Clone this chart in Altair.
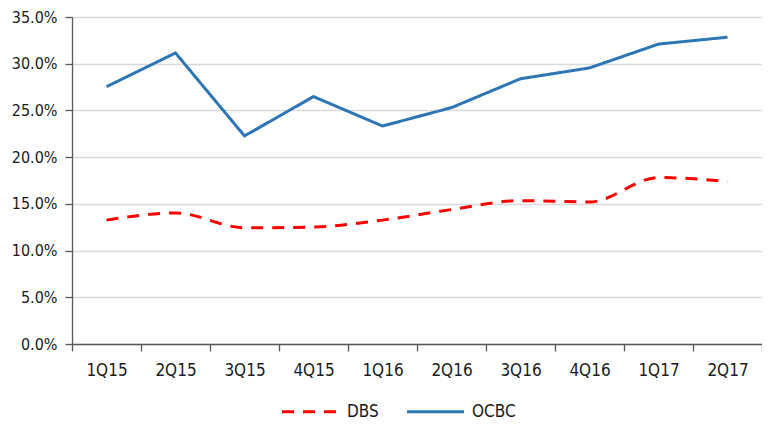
import altair as alt
import pandas as pd

quarters = ["1Q15", "2Q15", "3Q15", "4Q15", "1Q16", "2Q16", "3Q16", "4Q16", "1Q17", "2Q17"]
dbs = [0.1326, 0.1403, 0.1244, 0.1252, 0.1326, 0.1439, 0.1534, 0.1520, 0.1782, 0.1739]
ocbc = [0.2754, 0.3115, 0.2227, 0.2648, 0.2333, 0.2530, 0.2839, 0.2955, 0.3210, 0.3284]

df = pd.DataFrame(
    [{"q": q, "bank": "DBS", "v": v} for q, v in zip(quarters, dbs)]
    + [{"q": q, "bank": "OCBC", "v": v} for q, v in zip(quarters, ocbc)]
)

FONT = "DejaVu Sans Condensed, Liberation Sans, sans-serif"
FS = 17

x = alt.X(
    "q:N",
    sort=quarters,
    title=None,
    bandPosition=0.5,
    scale=alt.Scale(type="band", paddingInner=0, paddingOuter=0),
    axis=alt.Axis(
        tickBand="extent",
        labelAngle=0,
        labelFont=FONT,
        labelFontSize=FS,
        labelColor="#1a1a1a",
        labelPadding=11,
        tickSize=7,
        tickColor="#595959",
        domainColor="#595959",
        tickWidth=1.3,
        domainWidth=1.3,
        grid=False,
    ),
)
y = alt.Y(
    "v:Q",
    title=None,
    scale=alt.Scale(domain=[0, 0.35], nice=False),
    axis=alt.Axis(
        values=[0, 0.05, 0.1, 0.15, 0.2, 0.25, 0.3, 0.35],
        format=".1%",
        labelFont=FONT,
        labelFontSize=16,
        labelColor="#1a1a1a",
        labelPadding=8,
        tickSize=7,
        tickColor="#595959",
        domainColor="#595959",
        tickWidth=1.3,
        domainWidth=1.3,
        gridColor="#d9d9d9",
        gridWidth=1.3,
    ),
)

color = alt.Color(
    "bank:N",
    scale=alt.Scale(domain=["DBS", "OCBC"], range=["#ff0000", "#2e75b6"]),
    legend=alt.Legend(
        title=None,
        orient="none",
        direction="horizontal",
        legendX=208,
        legendY=364,
        labelFont=FONT,
        labelFontSize=FS,
        labelColor="#1a1a1a",
        symbolType="stroke",
        symbolSize=3250,
        symbolStrokeWidth=3,
        columnPadding=21,
        labelOffset=6,
    ),
)
dash = alt.StrokeDash(
    "bank:N",
    scale=alt.Scale(domain=["DBS", "OCBC"], range=[[12, 9], [1, 0]]),
    legend=None,
)

base = alt.Chart(df)
dbs_line = base.transform_filter(alt.datum.bank == "DBS").mark_line(
    strokeWidth=3, interpolate="monotone"
).encode(x=x, y=y, color=color, strokeDash=dash)
ocbc_line = base.transform_filter(alt.datum.bank == "OCBC").mark_line(
    strokeWidth=3
).encode(x=x, y=y, color=color, strokeDash=dash)

chart = (
    alt.layer(dbs_line, ocbc_line)
    .properties(
        width=690,
        height=327,
        autosize=alt.AutoSizeParams(type="none"),
        padding={"left": 64, "top": 9, "right": 0, "bottom": 80},
    )
    .configure_view(stroke=None)
    .configure(background="white")
)

chart.save("out.html", embed_options={"renderer": "svg", "actions": False})
